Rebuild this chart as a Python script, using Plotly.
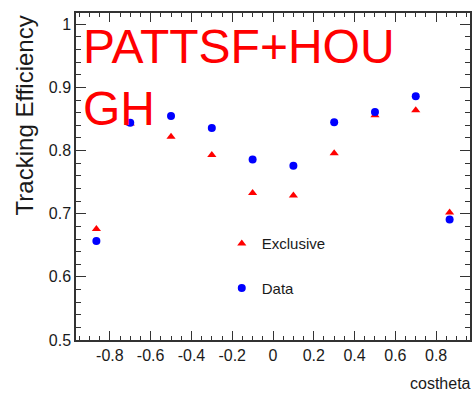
import plotly.graph_objects as go

costheta = [-0.866, -0.7, -0.5, -0.3, -0.1, 0.1, 0.3, 0.5, 0.7, 0.866]
exclusive = [0.676, 0.843, 0.822, 0.793, 0.733, 0.729, 0.796, 0.856, 0.864, 0.702]
data = [0.657, 0.844, 0.855, 0.836, 0.786, 0.776, 0.845, 0.861, 0.886, 0.691]

x_ticks = [-0.8, -0.6, -0.4, -0.2, 0, 0.2, 0.4, 0.6, 0.8]
x_ticklabels = ["-0.8", "-0.6", "-0.4", "-0.2", "0", "0.2", "0.4", "0.6", "0.8"]
y_ticks = [0.5, 0.6, 0.7, 0.8, 0.9, 1.0]
y_ticklabels = ["0.5", "0.6", "0.7", "0.8", "0.9", "1"]

SANS = "Liberation Sans, Arial, sans-serif"
INK = "#1a1a1a"

fig = go.Figure()
fig.add_trace(go.Scatter(
    x=costheta, y=exclusive, mode="markers", name="Exclusive",
    legendgroup="a",
    marker=dict(symbol="triangle-up", size=8, color="#ff0000"),
))
fig.add_trace(go.Scatter(
    x=costheta, y=data, mode="markers", name="Data",
    legendgroup="b",
    marker=dict(symbol="circle", size=8, color="#0000ff"),
))

axis_common = dict(
    showgrid=False, zeroline=False, showline=True, linecolor="#333333",
    linewidth=1.5, mirror="ticks", ticks="inside", tickcolor="#333333",
    tickwidth=1, tickfont=dict(family=SANS, size=16, color=INK),
)

fig.update_xaxes(
    range=[-0.966, 0.966], tickvals=x_ticks, ticktext=x_ticklabels,
    ticklen=9,
    minor=dict(dtick=0.05, ticks="inside", ticklen=4, tickcolor="#333333", showgrid=False),
    **axis_common,
)
fig.update_yaxes(
    range=[0.5, 1.018], tickvals=y_ticks, ticktext=y_ticklabels,
    ticklen=10,
    minor=dict(dtick=0.02, ticks="inside", ticklen=5, tickcolor="#333333", showgrid=False),
    **axis_common,
)

fig.add_annotation(
    text="PATTSF+HOU<br>GH", xref="paper", yref="paper", x=0.0126, y=0.985,
    xanchor="left", yanchor="top", align="left", showarrow=False,
    font=dict(family=SANS, size=48, color="#ff0000"),
)
fig.add_annotation(
    text="Tracking Efficiency", xref="paper", yref="paper", x=-0.131, y=0.688,
    xanchor="center", yanchor="middle", textangle=-90, showarrow=False,
    font=dict(family=SANS, size=24, color=INK),
)
fig.add_annotation(
    text="costheta", xref="paper", yref="paper", x=1.008, y=-0.101,
    xanchor="right", yanchor="top", showarrow=False,
    font=dict(family=SANS, size=16, color=INK),
)

fig.update_layout(
    width=474, height=397,
    margin=dict(l=76, r=2, t=13, b=57),
    paper_bgcolor="white", plot_bgcolor="white",
    legend=dict(
        x=0.37, y=0.345, xanchor="left", yanchor="top",
        font=dict(family=SANS, size=15, color=INK),
        tracegroupgap=22, traceorder="grouped", bgcolor="rgba(0,0,0,0)",
    ),
)

fig.write_html("out.html")
